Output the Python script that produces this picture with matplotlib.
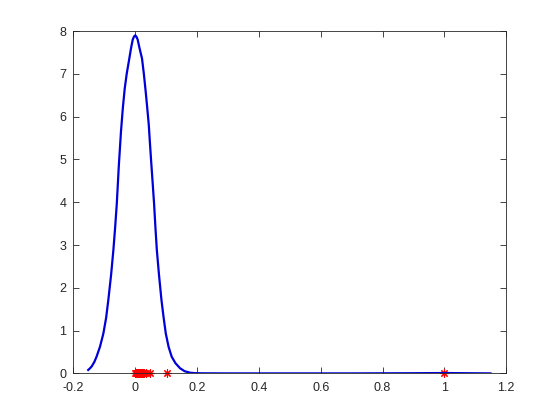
import numpy as np
import matplotlib.pyplot as plt

plt.rcParams['font.family'] = ['Liberation Sans', 'DejaVu Sans']

# density curve
curve_x = [-0.152, -0.146, -0.140, -0.132, -0.125, -0.114, -0.103, -0.094, -0.087,
           -0.078, -0.0706, -0.065, -0.0595, -0.053, -0.046, -0.040, -0.034,
           -0.0275, -0.019, -0.0135, -0.008, -0.004, 0.0, 0.004, 0.008, 0.014,
           0.022, 0.028, 0.034, 0.039, 0.044, 0.0475, 0.051, 0.056, 0.061, 0.0655,
           0.070, 0.077, 0.085, 0.092, 0.099, 0.108, 0.118, 0.130, 0.145,
           0.160, 0.178, 0.195, 0.22, 0.3, 0.5, 0.7, 0.9, 1.0, 1.149]
curve_y = [0.08, 0.12, 0.17, 0.27, 0.39, 0.62, 0.93, 1.30, 1.71,
           2.30, 2.88, 3.40, 3.97, 4.85, 5.65, 6.20, 6.65,
           7.00, 7.36, 7.60, 7.80, 7.87, 7.90, 7.87, 7.80, 7.60,
           7.36, 7.00, 6.58, 6.20, 5.80, 5.40, 5.02, 4.50, 3.97, 3.40,
           2.88, 2.30, 1.71, 1.30, 0.93, 0.62, 0.39, 0.24, 0.12,
           0.05, 0.015, 0.005, 0.002, 0.0, 0.0, 0.0, 0.004, 0.008, 0.0]

# samples (red asterisks on the axis)
samples = [0.0, 0.003, 0.005, 0.007, 0.009, 0.011, 0.013, 0.015, 0.017, 0.019,
           0.021, 0.024, 0.027, 0.035, 0.048, 0.104, 1.0]

xticks = [-0.2, 0, 0.2, 0.4, 0.6, 0.8, 1, 1.2]
xtick_labels = ['-0.2', '0', '0.2', '0.4', '0.6', '0.8', '1', '1.2']
yticks = [0, 1, 2, 3, 4, 5, 6, 7, 8]

fig = plt.figure(figsize=(5.6, 4.2), dpi=100)
ax = fig.add_axes([0.131, 0.111, 0.773, 0.815])

# MATLAB style '*' = 8-spoke asterisk, drawn below the curve
ax.plot(samples, np.zeros(len(samples)), ls='none', marker=(8, 2, 0),
        color='red', ms=6, mew=0.8, clip_on=False, zorder=1.9)
ax.plot(curve_x, curve_y, color='#0000d8', lw=1.6, zorder=2)

ax.set_xlim(-0.2, 1.2)
ax.set_ylim(0, 8)
ax.set_xticks(xticks)
ax.set_xticklabels(xtick_labels)
ax.set_yticks(yticks)
ax.tick_params(direction='in', top=True, right=True, length=4, width=0.6,
               labelsize=9, colors='#262626')
ax.tick_params(axis='x', pad=6)
ax.tick_params(axis='y', pad=5)
for s in ax.spines.values():
    s.set_linewidth(0.6)
    s.set_color('#262626')

fig.savefig('out.png', dpi=100)
